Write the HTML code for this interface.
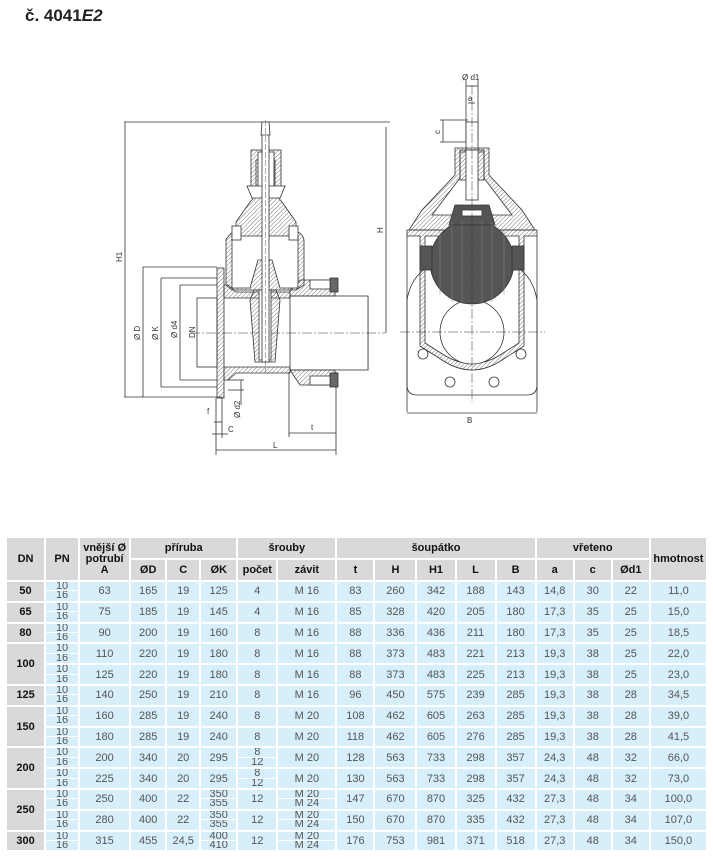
<!DOCTYPE html>
<html><head><meta charset="utf-8"><style>
body{margin:0;width:713px;height:859px;background:#fff;position:relative;overflow:hidden;font-family:"Liberation Sans",Arial,sans-serif}
.title{position:absolute;left:25px;top:6px;font-size:17px;font-weight:bold;color:#222}
svg{position:absolute;left:0;top:0}
table{position:absolute;left:5px;top:536px;border-collapse:separate;border-spacing:2px;table-layout:fixed;width:703px}
td,th{padding:0;text-align:center;font-size:11px;color:#555;background:#d6effa;overflow:hidden}
th{background:#d9d9d9;color:#111;font-weight:bold;height:20px;line-height:11px}
td.dn{background:#d9d9d9;color:#111;font-weight:bold}
tr.d td{height:18.8px;line-height:12px}
.s{display:block;line-height:9px;height:9.4px;box-sizing:border-box;overflow:hidden}
.s1{border-bottom:1px solid #fff}
</style></head><body>
<div class="title">č. 4041<i>E2</i></div>
<svg width="713" height="530" viewBox="0 0 713 530" fill="none" stroke="#333" stroke-width="0.8" font-family="Liberation Sans,Arial,sans-serif" font-size="8">
<defs><pattern id="h" width="3" height="3" patternUnits="userSpaceOnUse" patternTransform="rotate(45)"><line x1="0" y1="0" x2="0" y2="3" stroke="#555" stroke-width="0.8"/></pattern></defs>
<line x1="124" y1="122" x2="390" y2="122"/><line x1="124" y1="397" x2="222" y2="397"/>
<line x1="125" y1="122" x2="125" y2="397"/>
<line x1="143" y1="267" x2="217" y2="267"/><line x1="143" y1="267" x2="143" y2="397"/>
<line x1="161" y1="278" x2="217" y2="278"/><line x1="161" y1="278" x2="161" y2="387"/><line x1="161" y1="387" x2="217" y2="387"/>
<line x1="180" y1="285" x2="217" y2="285"/><line x1="180" y1="285" x2="180" y2="380"/><line x1="180" y1="380" x2="217" y2="380"/>
<line x1="198" y1="298" x2="198" y2="367"/>
<line x1="386" y1="127" x2="386" y2="333"/>
<line x1="368" y1="296" x2="368" y2="370"/>
<g fill="#333" stroke="none">
<text transform="translate(122,262) rotate(-90)">H1</text>
<text transform="translate(140,340) rotate(-90)">Ø D</text>
<text transform="translate(158,340) rotate(-90)">Ø K</text>
<text transform="translate(177,338) rotate(-90)">Ø d4</text>
<text transform="translate(195,338) rotate(-90)">DN</text>
<text transform="translate(366,338) rotate(-90)">Ø A</text>
<text transform="translate(383,233) rotate(-90)">H</text>
<text transform="translate(240,418) rotate(-90)">Ø d2</text>
<text x="207" y="414">f</text><text x="228" y="432">C</text>
<text x="311" y="430">t</text><text x="273" y="448">L</text>
</g>
<line x1="216" y1="398" x2="216" y2="455"/><line x1="336" y1="372" x2="336" y2="455"/>
<line x1="216" y1="450" x2="336" y2="450"/>
<line x1="289" y1="372" x2="289" y2="437"/><line x1="289" y1="433" x2="336" y2="433"/>
<line x1="222" y1="398" x2="222" y2="438"/><line x1="214" y1="422" x2="222" y2="422"/><line x1="212" y1="434" x2="228" y2="434"/>
<line x1="228" y1="380" x2="244" y2="380"/><line x1="228" y1="390" x2="244" y2="390"/><line x1="241" y1="380" x2="241" y2="405"/>
<rect x="197" y="298" width="20" height="69" fill="#fff"/>
<rect x="290" y="296" width="78" height="74" fill="#fff"/>
<line x1="190" y1="333" x2="385" y2="333" stroke-dasharray="10 2 2 2" stroke-width="0.5"/>
<rect x="217" y="268" width="7" height="130" fill="url(#h)"/>
<path d="M224 285 L228 285 L236 292 L290 292 L290 298 L224 298 Z" fill="url(#h)"/>
<path d="M224 367 L290 367 L290 373 L236 373 L228 380 L224 380 Z" fill="url(#h)"/>
<path d="M290 290 L300 280 L335 280 L335 296 L290 296Z" fill="url(#h)"/>
<path d="M290 370 L335 370 L335 385 L300 385Z" fill="url(#h)"/>
<rect x="310" y="280" width="22" height="9" fill="#fff"/><rect x="310" y="376" width="22" height="9" fill="#fff"/>
<rect x="330" y="278" width="8" height="14" fill="#666"/><rect x="330" y="373" width="8" height="14" fill="#666"/>
<path d="M226 285 L226 240 Q230 232 236 232 L236 222 L250 202 L256 195 L276 195 L282 202 L296 222 L296 232 Q302 232 304 240 L304 285 L296 290 L232 290 Z" fill="url(#h)"/>
<path d="M232 236 L298 236 L298 288 L280 288 L272 260 L258 260 L250 288 L232 288 Z" fill="#fff"/>
<path d="M256 196 L256 160 L275 160 L275 196" fill="#fff"/>
<rect x="251" y="150" width="30" height="40" fill="url(#h)"/>
<rect x="258" y="152" width="16" height="36" fill="#fff"/>
<path d="M247 186 L285 186 L280 198 L252 198 Z" fill="#fff"/>
<rect x="232" y="226" width="9" height="14" fill="#fff"/><rect x="289" y="226" width="9" height="14" fill="#fff"/>
<path d="M254 290 L250 300 L255 362 L275 362 L280 300 L276 290 Z" fill="url(#h)"/>
<rect x="259" y="290" width="12" height="70" fill="#fff"/>
<rect x="262" y="126" width="7" height="236" fill="#fff"/>
<path d="M261 135 L262 122 L269 122 L270 135 Z" fill="#fff"/>
<line x1="265.5" y1="120" x2="265.5" y2="372" stroke-dasharray="6 2" stroke-width="0.4"/>
<g>
<line x1="466" y1="80" x2="466" y2="140"/><line x1="478" y1="80" x2="478" y2="140"/>
<line x1="466" y1="86" x2="478" y2="86"/>
<line x1="468" y1="103" x2="475" y2="103"/>
<line x1="440" y1="120" x2="468" y2="120"/><line x1="440" y1="142" x2="468" y2="142"/><line x1="443" y1="120" x2="443" y2="142"/>
<g fill="#333" stroke="none"><text x="462" y="80">Ø d1</text><text x="468" y="101">a</text><text transform="translate(440,134) rotate(-90)">c</text><text x="467" y="423">B</text></g>
<rect x="466" y="122" width="12" height="28" fill="#fff"/>
<path d="M407 300 Q412 270 440 262 L505 262 Q532 270 537 300 L537 385 Q537 395 527 395 L417 395 Q407 395 407 385 Z" fill="#fff"/>
<path d="M455 148 L489 148 L489 175 L522 210 L535 230 L409 230 L422 210 L455 175 Z" fill="url(#h)"/>
<path d="M460 152 L484 152 L484 178 L512 215 L432 215 L460 178 Z" fill="#fff"/>
<rect x="460" y="150" width="24" height="30" fill="url(#h)"/><rect x="466" y="150" width="12" height="50" fill="#fff"/>
<path d="M407 230 L537 230 L537 236 L524 236 L524 346 L502 360 Q472 380 442 360 L420 346 L420 236 L407 236 Z" fill="url(#h)"/>
<path d="M425 236 L519 236 L519 343 L500 355 Q472 372 444 355 L425 343 Z" fill="#fff"/>
<line x1="407" y1="236" x2="407" y2="412"/><line x1="537" y1="236" x2="537" y2="412"/>
<line x1="407" y1="413" x2="537" y2="413"/>
<circle cx="472" cy="332" r="32" fill="#fff"/>
<circle cx="472" cy="262" r="42" fill="#555" stroke="#333"/>
<path d="M455 205 L489 205 L495 225 L449 225 Z" fill="#555"/>
<rect x="420" y="246" width="12" height="24" fill="#555"/><rect x="512" y="246" width="12" height="24" fill="#555"/>
<rect x="462" y="210" width="20" height="6" fill="#fff"/>
<g stroke="#888" stroke-width="0.5"><line x1="440" y1="230" x2="440" y2="295"/><line x1="452" y1="222" x2="452" y2="302"/><line x1="462" y1="220" x2="462" y2="304"/><line x1="482" y1="220" x2="482" y2="304"/><line x1="492" y1="222" x2="492" y2="302"/><line x1="504" y1="230" x2="504" y2="295"/></g>
<line x1="400" y1="332" x2="545" y2="332" stroke-dasharray="10 2 2 2" stroke-width="0.5"/>
<line x1="472" y1="85" x2="472" y2="402" stroke-dasharray="10 2 2 2" stroke-width="0.5"/>
<circle cx="423" cy="354" r="5" fill="#fff"/><circle cx="521" cy="354" r="5" fill="#fff"/>
<circle cx="450" cy="382" r="5" fill="#fff"/><circle cx="494" cy="382" r="5" fill="#fff"/>
</g>
</svg>
<table>
<colgroup><col style="width:37px"><col style="width:32px"><col style="width:49px"><col style="width:34px"><col style="width:32px"><col style="width:35px"><col style="width:38px"><col style="width:57px"><col style="width:36px"><col style="width:40px"><col style="width:37px"><col style="width:38px"><col style="width:38px"><col style="width:36px"><col style="width:36px"><col style="width:36px"><col style="width:55px"></colgroup>
<tr><th rowspan="2">DN</th><th rowspan="2">PN</th><th rowspan="2">vnější Ø<br>potrubí<br>A</th><th colspan="3">příruba</th><th colspan="2">šrouby</th><th colspan="5">šoupátko</th><th colspan="3">vřeteno</th><th rowspan="2">hmotnost</th></tr>
<tr><th>ØD</th><th>C</th><th>ØK</th><th>počet</th><th>závit</th><th>t</th><th>H</th><th>H1</th><th>L</th><th>B</th><th>a</th><th>c</th><th>Ød1</th></tr>
<tr class="d"><td class="dn">50</td><td><span class="s s1">10</span><span class="s">16</span></td><td>63</td><td>165</td><td>19</td><td>125</td><td>4</td><td>M 16</td><td>83</td><td>260</td><td>342</td><td>188</td><td>143</td><td>14,8</td><td>30</td><td>22</td><td>11,0</td></tr>
<tr class="d"><td class="dn">65</td><td><span class="s s1">10</span><span class="s">16</span></td><td>75</td><td>185</td><td>19</td><td>145</td><td>4</td><td>M 16</td><td>85</td><td>328</td><td>420</td><td>205</td><td>180</td><td>17,3</td><td>35</td><td>25</td><td>15,0</td></tr>
<tr class="d"><td class="dn">80</td><td><span class="s s1">10</span><span class="s">16</span></td><td>90</td><td>200</td><td>19</td><td>160</td><td>8</td><td>M 16</td><td>88</td><td>336</td><td>436</td><td>211</td><td>180</td><td>17,3</td><td>35</td><td>25</td><td>18,5</td></tr>
<tr class="d"><td class="dn" rowspan="2">100</td><td><span class="s s1">10</span><span class="s">16</span></td><td>110</td><td>220</td><td>19</td><td>180</td><td>8</td><td>M 16</td><td>88</td><td>373</td><td>483</td><td>221</td><td>213</td><td>19,3</td><td>38</td><td>25</td><td>22,0</td></tr>
<tr class="d"><td><span class="s s1">10</span><span class="s">16</span></td><td>125</td><td>220</td><td>19</td><td>180</td><td>8</td><td>M 16</td><td>88</td><td>373</td><td>483</td><td>225</td><td>213</td><td>19,3</td><td>38</td><td>25</td><td>23,0</td></tr>
<tr class="d"><td class="dn">125</td><td><span class="s s1">10</span><span class="s">16</span></td><td>140</td><td>250</td><td>19</td><td>210</td><td>8</td><td>M 16</td><td>96</td><td>450</td><td>575</td><td>239</td><td>285</td><td>19,3</td><td>38</td><td>28</td><td>34,5</td></tr>
<tr class="d"><td class="dn" rowspan="2">150</td><td><span class="s s1">10</span><span class="s">16</span></td><td>160</td><td>285</td><td>19</td><td>240</td><td>8</td><td>M 20</td><td>108</td><td>462</td><td>605</td><td>263</td><td>285</td><td>19,3</td><td>38</td><td>28</td><td>39,0</td></tr>
<tr class="d"><td><span class="s s1">10</span><span class="s">16</span></td><td>180</td><td>285</td><td>19</td><td>240</td><td>8</td><td>M 20</td><td>118</td><td>462</td><td>605</td><td>276</td><td>285</td><td>19,3</td><td>38</td><td>28</td><td>41,5</td></tr>
<tr class="d"><td class="dn" rowspan="2">200</td><td><span class="s s1">10</span><span class="s">16</span></td><td>200</td><td>340</td><td>20</td><td>295</td><td><span class="s s1">8</span><span class="s">12</span></td><td>M 20</td><td>128</td><td>563</td><td>733</td><td>298</td><td>357</td><td>24,3</td><td>48</td><td>32</td><td>66,0</td></tr>
<tr class="d"><td><span class="s s1">10</span><span class="s">16</span></td><td>225</td><td>340</td><td>20</td><td>295</td><td><span class="s s1">8</span><span class="s">12</span></td><td>M 20</td><td>130</td><td>563</td><td>733</td><td>298</td><td>357</td><td>24,3</td><td>48</td><td>32</td><td>73,0</td></tr>
<tr class="d"><td class="dn" rowspan="2">250</td><td><span class="s s1">10</span><span class="s">16</span></td><td>250</td><td>400</td><td>22</td><td><span class="s s1">350</span><span class="s">355</span></td><td>12</td><td><span class="s s1">M 20</span><span class="s">M 24</span></td><td>147</td><td>670</td><td>870</td><td>325</td><td>432</td><td>27,3</td><td>48</td><td>34</td><td>100,0</td></tr>
<tr class="d"><td><span class="s s1">10</span><span class="s">16</span></td><td>280</td><td>400</td><td>22</td><td><span class="s s1">350</span><span class="s">355</span></td><td>12</td><td><span class="s s1">M 20</span><span class="s">M 24</span></td><td>150</td><td>670</td><td>870</td><td>335</td><td>432</td><td>27,3</td><td>48</td><td>34</td><td>107,0</td></tr>
<tr class="d"><td class="dn">300</td><td><span class="s s1">10</span><span class="s">16</span></td><td>315</td><td>455</td><td>24,5</td><td><span class="s s1">400</span><span class="s">410</span></td><td>12</td><td><span class="s s1">M 20</span><span class="s">M 24</span></td><td>176</td><td>753</td><td>981</td><td>371</td><td>518</td><td>27,3</td><td>48</td><td>34</td><td>150,0</td></tr>
</table>
</body></html>
